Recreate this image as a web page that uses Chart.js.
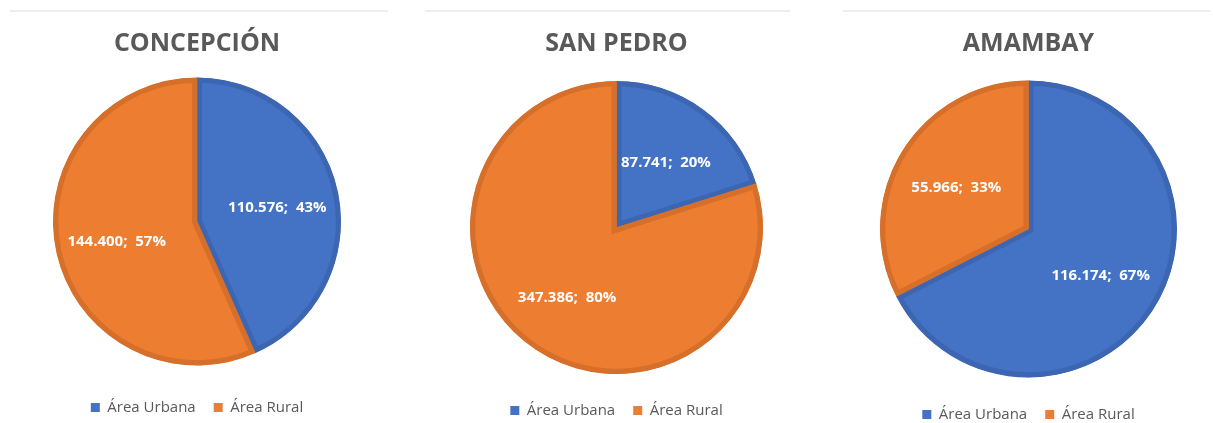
<!DOCTYPE html>
<html>
<head>
<meta charset="utf-8">
<script src="https://cdn.jsdelivr.net/npm/chart.js@4.4.1/dist/chart.umd.min.js"></script>
<style>
  html, body { margin: 0; padding: 0; background: #ffffff; width: 1213px; height: 423px; overflow: hidden; }
  body { position: relative; }
  .sep { position: absolute; top: 10px; height: 2px; background: #eeeeee; }
  canvas { position: absolute; top: 0; }
</style>
</head>
<body>
<div class="sep" style="left:10px;width:378px"></div>
<div class="sep" style="left:425px;width:365px"></div>
<div class="sep" style="left:843px;width:367px"></div>
<canvas id="c1" width="288" height="425" style="left:53px"></canvas>
<canvas id="c2" width="293" height="428" style="left:470px"></canvas>
<canvas id="c3" width="297" height="432" style="left:880px"></canvas>
<script>
const categories = ['Área Urbana', 'Área Rural'];
const titles = ['CONCEPCIÓN', 'SAN PEDRO', 'AMAMBAY'];
const concepcionValues = [110576, 144400];
const sanPedroValues = [87741, 347386];
const amambayValues = [116174, 55966];

const fillColors = ['#4472C4', '#ED7D31'];
const borderColors = ['#3C66B2', '#D66F2A'];

function fmtThousands(v) {
  return String(v).replace(/\B(?=(\d{3})+(?!\d))/g, '.');
}

const labelPlugin = {
  id: 'sliceLabels',
  afterDatasetsDraw(chart) {
    const ctx = chart.ctx;
    const ds = chart.data.datasets[0];
    const total = ds.data.reduce((a, b) => a + b, 0);
    const meta = chart.getDatasetMeta(0);
    ctx.save();
    ctx.font = 'bold 15px "Open Sans"';
    ctx.fillStyle = '#ffffff';
    ctx.textAlign = 'center';
    ctx.textBaseline = 'middle';
    meta.data.forEach((arc, i) => {
      const p = arc.getProps(['x', 'y', 'startAngle', 'endAngle', 'outerRadius'], true);
      const mid = (p.startAngle + p.endAngle) / 2;
      const r = p.outerRadius * 0.57;
      const x = p.x + Math.cos(mid) * r;
      const y = p.y + Math.sin(mid) * r + 3;
      const pct = Math.round(ds.data[i] / total * 100);
      ctx.fillText(fmtThousands(ds.data[i]) + ';  ' + pct + '%', x, y);
    });
    ctx.restore();
  }
};

function makePie(id, title, values, titleBottom) {
  new Chart(document.getElementById(id), {
    type: 'pie',
    data: {
      labels: categories,
      datasets: [{
        data: values,
        backgroundColor: fillColors,
        borderColor: borderColors,
        borderWidth: 5,
        borderAlign: 'inner',
        borderJoinStyle: 'miter',
        hoverOffset: 0,
        offset: 0
      }]
    },
    options: {
      responsive: false,
      animation: false,
      events: [],
      layout: { padding: 0 },
      plugins: {
        tooltip: { enabled: false },
        title: {
          display: true,
          text: title,
          color: '#595959',
          font: { family: 'Open Sans', size: 25, weight: 'bold', lineHeight: 1.2 },
          padding: { top: 29, bottom: titleBottom }
        },
        legend: {
          position: 'bottom',
          labels: {
            color: '#595959',
            font: { family: 'Open Sans', size: 15 },
            boxWidth: 9,
            boxHeight: 9,
            padding: 18,
            generateLabels: (chart) =>
              Chart.overrides.pie.plugins.legend.labels.generateLabels(chart)
                .map(l => Object.assign(l, { lineWidth: 0, strokeStyle: l.fillStyle }))
          }
        }
      }
    },
    plugins: [labelPlugin]
  });
}

makePie('c1', titles[0], concepcionValues, 2);
makePie('c2', titles[1], sanPedroValues, 11);
makePie('c3', titles[2], amambayValues, 10);
</script>
</body>
</html>
